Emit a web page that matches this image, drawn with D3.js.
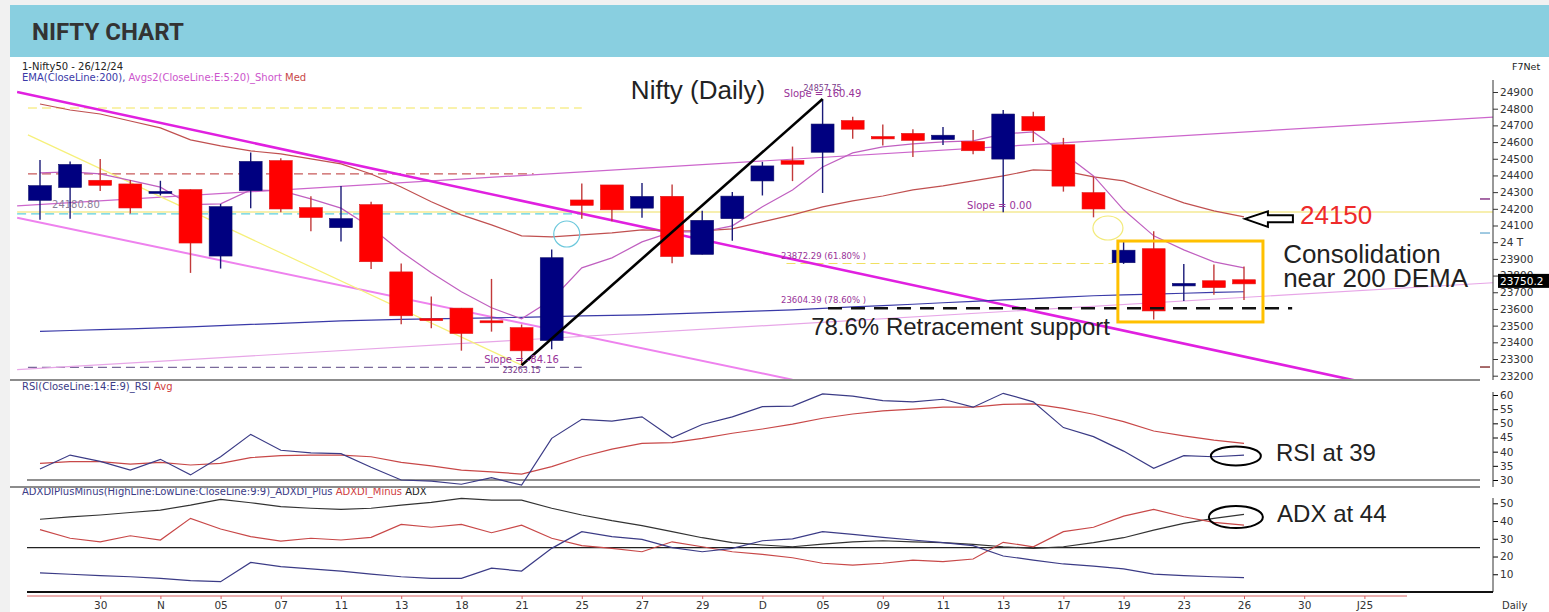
<!DOCTYPE html>
<html>
<head>
<meta charset="utf-8">
<title>NIFTY CHART</title>
<script src="https://cdn.jsdelivr.net/npm/d3@7/dist/d3.min.js"></script>
<style>
  body { margin: 0; background: #f1f1f1; }
  svg { display: block; }
</style>
</head>
<body>
<div id="chart"></div>
<script>
// ---- Data (Nifty 50, 28 Oct .. 26 Dec 2024) ----
const opens  = [24251,24328,24371,24349,24302,24315,23917,24309,24489,24207,24087,24225,23822,23542,23605,23529,23488,23411,24253,24343,24204,24275,23927,24141,24367,24489,24539,24729,24633,24652,24615,24604,24498,24753,24584,24297,23877,23961,23738,23769,23775];
const highs  = [24493,24484,24498,24372,24368,24316,24229,24537,24503,24276,24336,24242,23873,23675,23606,23780,23507,23956,24351,24343,24354,24345,24188,24301,24481,24573,24857.75,24751,24705,24677,24691,24672,24792,24781,24625,24394,24004,24065,23869,23867,23854];
const lows   = [24135,24140,24307,24172,24280,23816,23842,24204,24179,24066,24004,23839,23509,23484,23350,23464,23263.15,23359,24140,24125,24146,23874,23927,24008,24280,24366,24295,24620,24580,24510,24583,24527,24180,24601,24303,24149,23870,23537,23647,23685,23654];
const closes = [24339,24466,24341,24205,24304,23995,24213,24484,24199,24148,24141,23883,23559,23532,23453,23518,23349,23907,24221,24194,24274,23914,24131,24276,24457,24467,24708,24677,24619,24610,24641,24548,24768,24668,24336,24199,23952,23588,23753,23728,23750.2];

// moving averages
const ema5   = [24415,24421,24409,24370,24330,24225,24230,24313,24309,24260,24204,24088,23943,23817,23703,23607,23541,23655,23846,23906,24002,24062,24062,24098,24212,24313,24451,24535,24571,24589,24601,24607,24649,24661,24535,24397,24194,24038,23954,23882,23846];
const ema20  = [24828,24792,24768,24726,24685,24613,24577,24547,24529,24499,24469,24409,24331,24242,24164,24104,24038,24032,24044,24056,24074,24068,24068,24080,24122,24164,24212,24248,24277,24313,24337,24367,24397,24433,24427,24391,24367,24301,24236,24188,24152];
const ema200 = [23466,23471,23476,23481,23487,23493,23500,23507,23514,23521,23529,23533,23537,23540,23543,23547,23550,23554,23558,23561,23565,23570,23576,23582,23588,23595,23603,23612,23620,23628,23637,23645,23654,23662,23671,23679,23684,23689,23694,23699,23703];

// RSI panel
const rsi    = [33.9,38.8,36.6,33.5,37.3,31.8,38.2,46.1,40.5,39.6,39.3,34.5,30.0,29.6,28.5,30.8,28.2,44.7,51.4,50.8,52.3,44.9,49.6,52.3,55.9,56.1,60.4,59.6,58.0,57.6,58.5,55.7,60.6,57.6,48.5,45.3,40.2,34.1,38.6,38.2,38.8];
const rsiAvg = [35.9,36.5,36.5,35.6,36.2,35.3,35.9,37.9,38.6,38.8,38.8,38.2,36.2,35.0,33.5,32.9,32.1,34.7,38.2,40.9,42.9,43.2,44.7,46.5,48.0,49.7,51.8,53.3,54.4,55.0,55.7,55.7,56.7,56.9,55.3,53.2,50.6,47.3,45.6,44.1,42.9];

// ADX panel
const adx     = [41.0,42.3,43.4,44.8,46.2,49.0,52.2,50.3,48.1,47.2,46.6,47.2,49.0,50.5,52.8,51.8,51.8,47.2,43.4,40.2,37.4,34.0,30.6,27.8,26.5,25.5,27.0,28.3,28.9,28.3,27.8,26.9,25.5,24.6,25.5,27.8,30.6,34.9,38.7,41.5,43.8];
const diPlus  = [10.8,10.0,9.2,8.6,7.7,6.4,5.8,16.7,14.3,13.0,11.8,10.1,8.6,7.7,7.7,13.4,11.8,24.6,34.0,31.2,29.7,25.0,22.7,24.6,28.9,29.9,34.0,32.5,30.8,29.3,27.8,26.1,20.3,18.0,15.8,14.6,13.0,10.1,9.2,8.6,8.1];
const diMinus = [35.2,30.3,28.3,31.7,29.3,41.5,35.5,31.2,28.7,30.3,29.3,30.8,38.1,36.5,38.1,33.4,37.7,30.3,26.1,24.6,22.7,28.3,25.5,22.7,21.2,19.3,16.2,15.2,16.2,18.0,17.1,18.6,28.0,25.5,34.0,36.5,42.8,46.6,42.4,39.3,37.7];

// axes
const priceTicks    = [24900,24800,24700,24600,24500,24400,24300,24200,24100,24000,23900,23800,23700,23600,23500,23400,23300,23200];
const priceTickText = ["24900","24800","24700","24600","24500","24400","24300","24200","24100","24 T","23900","23800","23700","23600","23500","23400","23300","23200"];
const rsiTicks = [60,55,50,45,40,35,30];
const adxTicks = [50,40,30,20,10];
const xTickIdx  = [2,4,6,8,10,12,14,16,18,20,22,24,26,28,30,32,34,36,38,40,42,44];
const xTickText = ["30","N","05","07","11","13","18","21","25","27","29","D","05","09","11","13","17","19","23","26","30","J25"];

// drawn studies, as [bar index, price]
const trendMagenta  = [[-0.76,24900],[44.19,23152]];
const trendChannel  = [[-0.76,24146],[25.0,23176]];
const trendUpper    = [[-0.76,24218],[48.27,24750]];
const trendLower    = [[-0.76,23236],[48.27,23757]];
const trendFall     = [[-0.4,24643],[16,23263.15]];
const trendRise     = [[16,23263.15],[26,24857.75]];
const swingLow = 23263.15, swingHigh = 24857.75;
const fib618 = 23872.29, fib786 = 23604.39, flatLevel = 24180.80, targetLevel = 24150;
const oldLevels = [24804, 24409, 24170, 23250];   // yellow, red, cyan, purple dashed
const axisMarks = [24259, 24055, 23252];          // small marks by the price axis
const lastClose = 23750.2;

// ---- Layout ----
const W = 1549, H = 612;
const axisX = 1493;

const svg = d3.select("#chart").append("svg")
    .attr("width", W).attr("height", H)
    .style("font-family", "'DejaVu Sans', Verdana, sans-serif");

// card + header band
svg.append("rect").attr("x", 10).attr("y", 5).attr("width", W - 10).attr("height", H - 5).attr("fill", "#fff");
svg.append("rect").attr("x", 10).attr("y", 5).attr("width", W - 10).attr("height", 52).attr("fill", "#89cfe0");
svg.append("text").attr("x", 32).attr("y", 40)
    .style("font-family", "Roboto, 'Open Sans', sans-serif").style("font-weight", "bold")
    .style("font-size", "24px").attr("fill", "#333").text("NIFTY CHART");

// scales
const x  = d3.scaleLinear().domain([0, 40]).range([40, 1244]);
const yP = d3.scaleLinear().domain([23200, 24900]).range([375.7, 92]);
const yR = d3.scaleLinear().domain([30, 60]).range([480, 395]);
const yA = d3.scaleLinear().domain([0, 50]).range([592, 503.3]);
const bw = (x(1) - x(0)) * 0.76;

// clip regions
const defs = svg.append("defs");
function clip(id, x0, y0, x1, y1) {
    defs.append("clipPath").attr("id", id).append("rect")
        .attr("x", x0).attr("y", y0).attr("width", x1 - x0).attr("height", y1 - y0);
}
clip("cTrend", 17, 85, axisX, 379);
clip("cPrice", 27, 85, axisX, 379);
clip("cRsi", 27, 383, axisX, 486);
clip("cAdx", 27, 489, axisX, 592);

// panel titles
svg.append("text").attr("x", 22).attr("y", 70).style("font-size", "10px").attr("fill", "#222").text("1-Nifty50 - 26/12/24");
const legP = svg.append("text").attr("x", 22).attr("y", 81).style("font-size", "10px");
legP.append("tspan").attr("fill", "#3a3aa8").text("EMA(CloseLine:200), ");
legP.append("tspan").attr("fill", "#cc55cc").text("Avgs2(CloseLine:E:5:20)_Short ");
legP.append("tspan").attr("fill", "#c84848").text("Med");
svg.append("text").attr("x", 1512).attr("y", 70).style("font-size", "9.5px").attr("fill", "#222").text("F7Net");

const legR = svg.append("text").attr("x", 22).attr("y", 390).style("font-size", "10px");
legR.append("tspan").attr("fill", "#3b3b86").text("RSI(CloseLine:14:E:9)_RSI ");
legR.append("tspan").attr("fill", "#d04040").text("Avg");

const legA = svg.append("text").attr("x", 22).attr("y", 495).style("font-size", "10px");
legA.append("tspan").attr("fill", "#3b3b86").text("ADXDIPlusMinus(HighLine:LowLine:CloseLine:9:9)_ADXDI_Plus ");
legA.append("tspan").attr("fill", "#d04040").text("ADXDI_Minus ");
legA.append("tspan").attr("fill", "#222").text("ADX");

// panel separators
[[380, 1480], [487, 1480]].forEach(([yy, xe]) => {
    svg.append("line").attr("x1", 10).attr("x2", xe).attr("y1", yy).attr("y2", yy)
        .attr("stroke", "#8c8c8c").attr("stroke-width", 2);
});

// ---- Price panel ----
const price = svg.append("g");
const trendG = price.append("g").attr("clip-path", "url(#cTrend)");
const pLine = d3.line().x(d => x(d[0])).y(d => yP(d[1]));

// horizontal levels from the earlier swing
const levelColors = ["#f4e55a", "#c85a5a", "#5fd0dc", "#7a6a9a"];
const levelStart = [-0.4, -0.4, -0.76, -0.4];
const levelEnd = [18.0, 16.4, 18.05, 18.0];
oldLevels.forEach((p, k) => {
    trendG.append("path").attr("d", pLine([[levelStart[k], p], [levelEnd[k], p]]))
        .attr("stroke", levelColors[k]).attr("stroke-width", 1.2).attr("stroke-dasharray", "9,5").attr("fill", "none");
});
// flat line at 24180.80 over the whole chart
trendG.append("path").attr("d", pLine([[-0.76, flatLevel], [48.3, flatLevel]]))
    .attr("stroke", "#f0e060").attr("stroke-width", 1.2).attr("fill", "none");
// 61.8% retracement
trendG.append("path").attr("d", pLine([[24.8, fib618], [35.65, fib618]]))
    .attr("stroke", "#f0e060").attr("stroke-width", 1.2).attr("stroke-dasharray", "9,5").attr("fill", "none");

// trendlines
trendG.append("path").attr("d", pLine(trendChannel)).attr("stroke", "#ee82ee").attr("stroke-width", 2).attr("fill", "none");
trendG.append("path").attr("d", pLine(trendUpper)).attr("stroke", "#cc66cc").attr("stroke-width", 1.2).attr("fill", "none");
trendG.append("path").attr("d", pLine(trendLower)).attr("stroke", "#e7a6e7").attr("stroke-width", 1.2).attr("fill", "none");
trendG.append("path").attr("d", pLine(trendFall)).attr("stroke", "#f6f07a").attr("stroke-width", 1.2).attr("fill", "none");
trendG.append("path").attr("d", pLine(trendMagenta)).attr("stroke", "#e020e0").attr("stroke-width", 2.6).attr("fill", "none");

// moving averages
const maG = price.append("g").attr("clip-path", "url(#cPrice)");
const serLine = (ys) => d3.line().x((d, i) => x(i)).y(d => ys(d));
maG.append("path").attr("d", serLine(yP)(ema200)).attr("stroke", "#3a3aa8").attr("stroke-width", 1.2).attr("fill", "none");
maG.append("path").attr("d", serLine(yP)(ema20)).attr("stroke", "#c05050").attr("stroke-width", 1.2).attr("fill", "none");
maG.append("path").attr("d", serLine(yP)(ema5)).attr("stroke", "#c060c0").attr("stroke-width", 1.2).attr("fill", "none");

// candles
const candles = opens.map((o, i) => ({ i, o, h: highs[i], l: lows[i], c: closes[i] }));
const cg = price.append("g");
cg.selectAll("line").data(candles).join("line")
    .attr("x1", d => x(d.i)).attr("x2", d => x(d.i))
    .attr("y1", d => yP(d.h)).attr("y2", d => yP(d.l))
    .attr("stroke", d => d.c >= d.o ? "#1a1a78" : "#c23a3a").attr("stroke-width", 1.4);
cg.selectAll("rect").data(candles).join("rect")
    .attr("x", d => x(d.i) - bw / 2).attr("width", bw)
    .attr("y", d => yP(Math.max(d.o, d.c)))
    .attr("height", d => Math.max(2, yP(Math.min(d.o, d.c)) - yP(Math.max(d.o, d.c))))
    .attr("fill", d => d.c >= d.o ? "#000080" : "#ff0000")
    .attr("stroke", d => d.c >= d.o ? "#10106a" : "#e01818").attr("stroke-width", 0.6);

// swing line (low to high) and the 78.6% support
price.append("path").attr("d", pLine(trendRise)).attr("stroke", "#000").attr("stroke-width", 2.6).attr("fill", "none");
price.append("path").attr("d", pLine([[26.18, fib786], [41.6, fib786]]))
    .attr("stroke", "#111").attr("stroke-width", 2.4).attr("stroke-dasharray", "14,9").attr("fill", "none");

// circles
price.append("ellipse").attr("cx", x(17.5)).attr("cy", yP(24049)).attr("rx", 13).attr("ry", 13)
    .attr("fill", "none").attr("stroke", "#6cc8dc").attr("stroke-width", 1.2);
price.append("ellipse").attr("cx", x(35.48)).attr("cy", yP(24085)).attr("rx", 15).attr("ry", 12)
    .attr("fill", "none").attr("stroke", "#f2ea7a").attr("stroke-width", 1.2);

// consolidation box
price.append("rect")
    .attr("x", x(35.81)).attr("y", yP(24007))
    .attr("width", x(40.63) - x(35.81)).attr("height", yP(23522) - yP(24007))
    .attr("fill", "none").attr("stroke", "#ffc000").attr("stroke-width", 3);

// hollow arrow pointing at 24150
price.append("path")
    .attr("transform", `translate(${x(40.03)},${yP(24140)})`)
    .attr("d", "M0,0 L23,-7.5 L23,-3.5 L48,-3.5 L48,3.5 L23,3.5 L23,8 Z")
    .attr("fill", "#fff").attr("stroke", "#000").attr("stroke-width", 2);

// small study labels
const small = (i, p, txt, size, color, anchor) => price.append("text")
    .attr("x", x(i)).attr("y", yP(p)).attr("text-anchor", anchor || "start")
    .style("font-size", size + "px").attr("fill", color).text(txt);
small(26, 24873, "Slope = 160.49", 10, "#993399", "middle");
small(26, 24906, d3.format(".2f")(swingHigh), 8, "#7a3a8a", "middle");
small(16, 23278, "Slope = -84.16", 10, "#993399", "middle");
small(16, 23218, d3.format(".2f")(swingLow), 8, "#7a3a8a", "middle");
small(0.4, 24205, d3.format(".2f")(flatLevel), 10, "#8a8099");
small(30.8, 24197, "Slope = 0.00", 10, "#993399");
small(24.62, 23897, `${d3.format(".2f")(fib618)} (61.80% )`, 8.5, "#993399");
small(24.62, 23634, `${d3.format(".2f")(fib786)} (78.60% )`, 8.5, "#993399");

// big annotations
const big = (i, p, txt, size, color) => price.append("text")
    .attr("x", x(i)).attr("y", yP(p))
    .style("font-family", "'Liberation Sans', Arial, sans-serif")
    .style("font-size", size + "px").attr("fill", color).text(txt);
big(19.63, 24858, "Nifty (Daily)", 26, "#222");
big(25.62, 23444, "78.6% Retracement support", 24, "#222");
big(41.3, 23874, "Consolidation", 26, "#222");
big(41.3, 23733, "near 200 DEMA", 26, "#222");
big(41.86, 24107, String(targetLevel), 26, "#ee2b2b");

// price axis
const pAxis = svg.append("g").attr("transform", `translate(${axisX},0)`)
    .call(d3.axisRight(yP).tickValues(priceTicks).tickFormat((d, i) => priceTickText[i]).tickSize(5).tickPadding(2));
pAxis.select(".domain").remove();
pAxis.selectAll("text").style("font-size", "10.5px").style("font-family", "'DejaVu Sans', Verdana, sans-serif").attr("fill", "#333");
pAxis.selectAll("line").attr("stroke", "#333");
svg.append("line").attr("x1", axisX).attr("x2", axisX).attr("y1", 80).attr("y2", 380).attr("stroke", "#333");
// level marks by the axis
const markColors = ["#8a3a8a", "#80b8d8", "#8a3a3a"];
axisMarks.forEach((p, k) => {
    svg.append("line").attr("x1", axisX - 13).attr("x2", axisX - 3).attr("y1", yP(p)).attr("y2", yP(p))
        .attr("stroke", markColors[k]).attr("stroke-width", 1.5);
});
// last price tag
const tag = svg.append("g").attr("transform", `translate(${axisX + 5},${yP(lastClose) - 3})`);
tag.append("rect").attr("x", 0).attr("y", -7).attr("width", 60).attr("height", 14).attr("fill", "#000");
tag.append("text").attr("x", 2).attr("y", 4).style("font-size", "10.5px").attr("fill", "#fff").text(lastClose.toFixed(1));

// ---- RSI panel ----
svg.append("line").attr("x1", 27).attr("x2", 1480).attr("y1", yR(30)).attr("y2", yR(30)).attr("stroke", "#222").attr("stroke-width", 1.2);
const rsiG = svg.append("g").attr("clip-path", "url(#cRsi)");
rsiG.append("path").attr("d", serLine(yR)(rsiAvg)).attr("stroke", "#c84848").attr("stroke-width", 1.2).attr("fill", "none");
rsiG.append("path").attr("d", serLine(yR)(rsi)).attr("stroke", "#3b3b86").attr("stroke-width", 1.2).attr("fill", "none");
svg.append("ellipse").attr("cx", x(39.73)).attr("cy", yR(38.5)).attr("rx", 25).attr("ry", 9.5)
    .attr("fill", "none").attr("stroke", "#000").attr("stroke-width", 2);
svg.append("text").attr("x", x(41.06)).attr("y", yR(36.7))
    .style("font-family", "'Liberation Sans', Arial, sans-serif").style("font-size", "24px").attr("fill", "#222").text("RSI at 39");
const rAxis = svg.append("g").attr("transform", `translate(${axisX},0)`)
    .call(d3.axisRight(yR).tickValues(rsiTicks).tickSize(5).tickPadding(2));
rAxis.select(".domain").remove();
rAxis.selectAll("text").style("font-size", "10.5px").style("font-family", "'DejaVu Sans', Verdana, sans-serif").attr("fill", "#333");
svg.append("line").attr("x1", axisX).attr("x2", axisX).attr("y1", 392).attr("y2", 487).attr("stroke", "#333");

// ---- ADX panel ----
svg.append("line").attr("x1", 27).attr("x2", 1480).attr("y1", yA(25)).attr("y2", yA(25)).attr("stroke", "#222").attr("stroke-width", 1.2);
const adxG = svg.append("g").attr("clip-path", "url(#cAdx)");
adxG.append("path").attr("d", serLine(yA)(adx)).attr("stroke", "#333").attr("stroke-width", 1.2).attr("fill", "none");
adxG.append("path").attr("d", serLine(yA)(diMinus)).attr("stroke", "#c84848").attr("stroke-width", 1.2).attr("fill", "none");
adxG.append("path").attr("d", serLine(yA)(diPlus)).attr("stroke", "#3b3b86").attr("stroke-width", 1.2).attr("fill", "none");
svg.append("ellipse").attr("cx", x(39.73)).attr("cy", yA(42.25)).attr("rx", 27).attr("ry", 11)
    .attr("fill", "none").attr("stroke", "#000").attr("stroke-width", 2);
svg.append("text").attr("x", x(41.1)).attr("y", yA(39.4))
    .style("font-family", "'Liberation Sans', Arial, sans-serif").style("font-size", "24px").attr("fill", "#222").text("ADX at 44");
const aAxis = svg.append("g").attr("transform", `translate(${axisX},0)`)
    .call(d3.axisRight(yA).tickValues(adxTicks).tickSize(5).tickPadding(2));
aAxis.select(".domain").remove();
aAxis.selectAll("text").style("font-size", "10.5px").style("font-family", "'DejaVu Sans', Verdana, sans-serif").attr("fill", "#333");
svg.append("line").attr("x1", axisX).attr("x2", axisX).attr("y1", 498).attr("y2", 592).attr("stroke", "#333");
svg.append("line").attr("x1", 27).attr("x2", axisX).attr("y1", 592).attr("y2", 592).attr("stroke", "#111").attr("stroke-width", 2);

// ---- date axis ----
const xAxis = svg.append("g").attr("transform", "translate(0,596)")
    .call(d3.axisBottom(x).tickValues(xTickIdx).tickFormat((d, i) => xTickText[i]).tickSize(3).tickPadding(3));
xAxis.select(".domain").remove();
xAxis.selectAll("line").attr("stroke", "#d86060");
xAxis.selectAll("text").style("font-size", "10.5px").style("font-family", "'DejaVu Sans', Verdana, sans-serif").attr("fill", "#333");
svg.append("line").attr("x1", 27).attr("x2", 1407).attr("y1", 596).attr("y2", 596).attr("stroke", "#d86060");
svg.append("text").attr("x", 1502).attr("y", 609).style("font-size", "10px").attr("fill", "#333").text("Daily");
</script>
</body>
</html>
